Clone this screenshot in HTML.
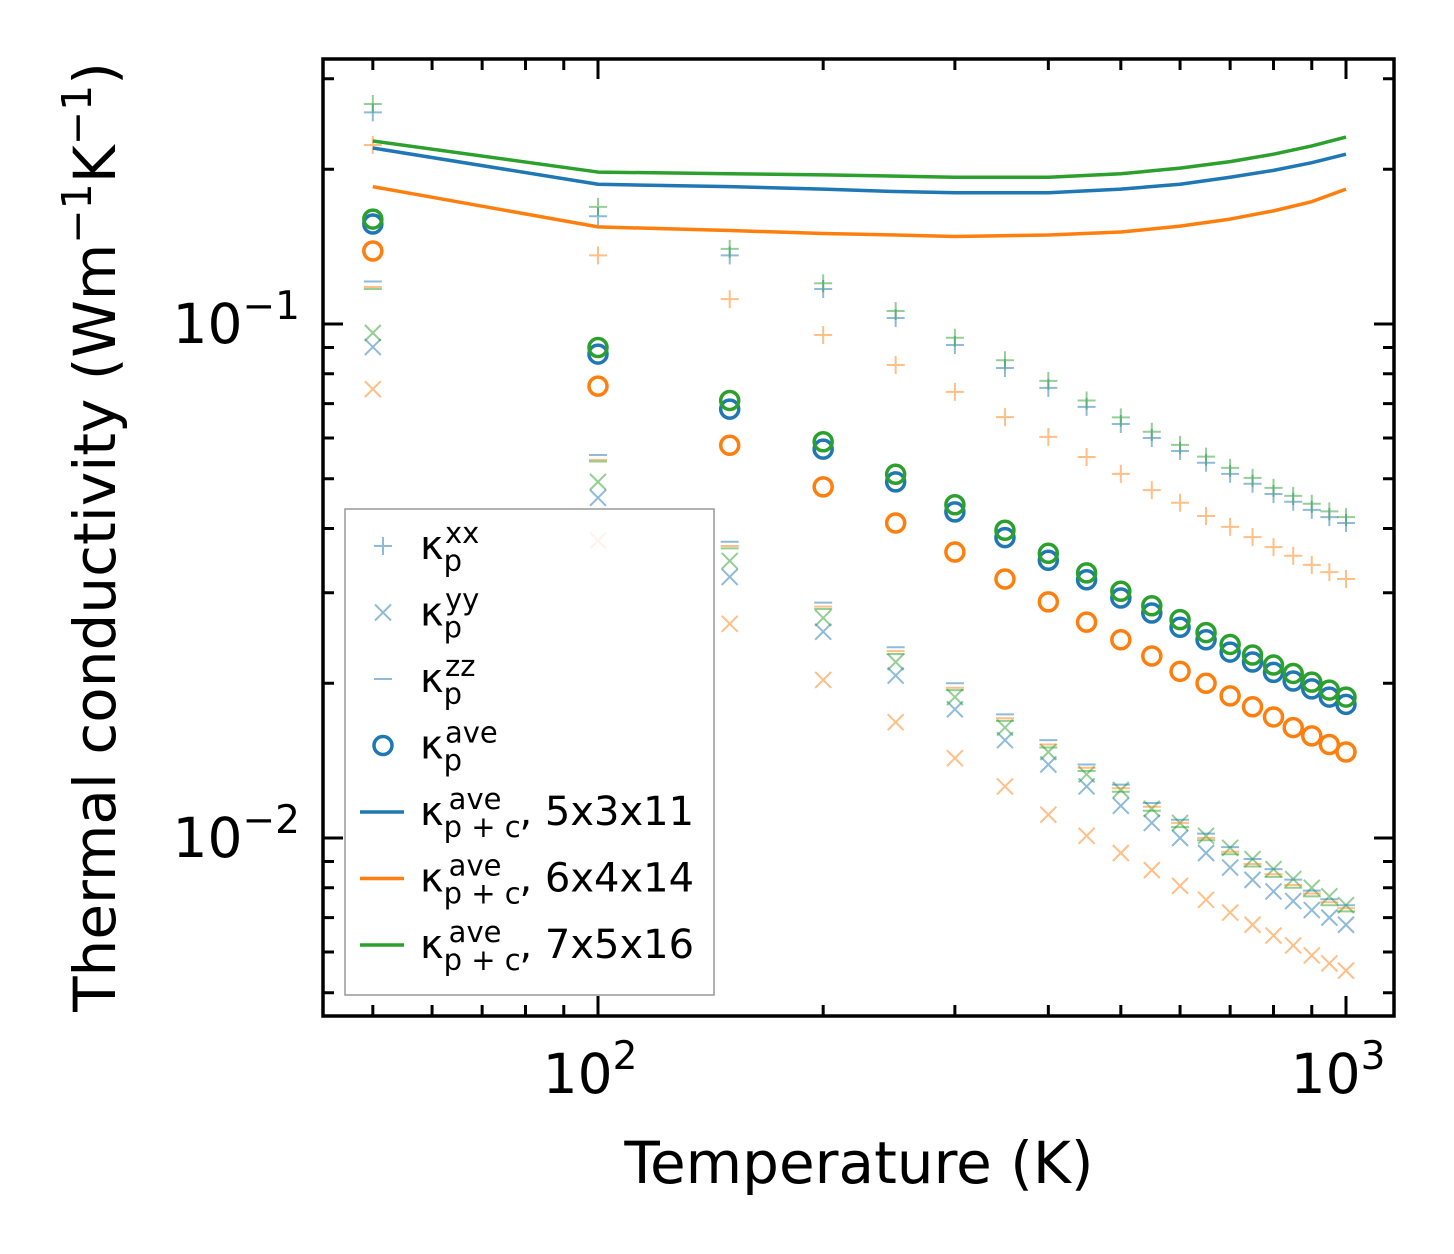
<!DOCTYPE html>
<html><head><meta charset="utf-8"><style>
body{margin:0;background:#fff;}
svg{display:block;font-family:"DejaVu Sans","Liberation Sans",sans-serif;}
</style></head><body>
<svg id="chart" width="1454" height="1254" xmlns="http://www.w3.org/2000/svg">
<rect width="1454" height="1254" fill="#fff"/>
<g id="marks"></g>
<g id="axes"></g>
<g id="legend"></g>
</svg>
<script>
const temps=[50,100,150,200,250,300,350,400,450,500,550,600,650,700,750,800,850,900,950,1000];
const lineTemps=[50,100,150,200,250,300,400,500,600,700,800,900,1000];
const lineBlue=[0.220,0.187,0.185,0.183,0.181,0.180,0.180,0.183,0.187,0.193,0.199,0.206,0.214];
const lineOrange=[0.185,0.1545,0.152,0.150,0.149,0.148,0.149,0.151,0.155,0.160,0.166,0.173,0.183];
const lineGreen=[0.227,0.1975,0.196,0.195,0.194,0.193,0.193,0.196,0.201,0.207,0.214,0.222,0.231];
const aveBlue=[0.1565,0.0874,0.0683,0.0571,0.0493,0.0431,0.0384,0.0347,0.0318,0.0293,0.0274,0.0257,0.0243,0.0230,0.0220,0.0210,0.0202,0.0195,0.0188,0.0182];
const aveGreen=[0.160,0.090,0.071,0.059,0.051,0.0445,0.0397,0.0358,0.0328,0.0302,0.0283,0.0266,0.0251,0.0238,0.0227,0.0217,0.0209,0.0201,0.0194,0.0188];
const aveOrange=[0.1387,0.0757,0.0581,0.0482,0.0410,0.0360,0.0319,0.0288,0.0263,0.0243,0.0226,0.0211,0.0200,0.0189,0.0180,0.0172,0.0164,0.0158,0.0152,0.0147];
const xxBlue=[0.258,0.162,0.136,0.117,0.1027,0.091,0.0821,0.0751,0.069,0.0639,0.060,0.0566,0.0537,0.0511,0.0489,0.0467,0.0451,0.0435,0.0421,0.0410];
const xxGreen=[0.268,0.169,0.140,0.120,0.106,0.094,0.085,0.0775,0.071,0.0658,0.0617,0.0582,0.0552,0.0525,0.0502,0.048,0.0463,0.0447,0.0432,0.0421];
const xxOrange=[0.223,0.136,0.1118,0.0952,0.0832,0.0738,0.0659,0.0603,0.0551,0.0511,0.0475,0.0449,0.0423,0.0403,0.0385,0.0368,0.0354,0.034,0.0329,0.0319];
const yyBlue=[0.0902,0.0459,0.0322,0.0252,0.0207,0.0178,0.0155,0.0139,0.0126,0.01155,0.0107,0.0100,0.00935,0.00876,0.00829,0.00787,0.00754,0.00724,0.0070,0.00678];
const yyGreen=[0.0961,0.0493,0.0346,0.0268,0.022,0.0188,0.0164,0.0147,0.0133,0.0124,0.0114,0.0107,0.0101,0.00957,0.0091,0.0087,0.00832,0.0080,0.0077,0.0074];
const yyOrange=[0.0747,0.0379,0.0261,0.0203,0.0168,0.0143,0.0126,0.0111,0.0101,0.00935,0.00866,0.00807,0.00758,0.00716,0.00678,0.00646,0.00618,0.00591,0.0057,0.00552];
const zzBlue=[0.121,0.0556,0.0377,0.0287,0.0235,0.0200,0.0174,0.0155,0.0139,0.0127,0.0117,0.01085,0.0102,0.0096,0.0091,0.0087,0.0083,0.0079,0.0076,0.0074];
const zzGreen=[0.117,0.0540,0.0366,0.0279,0.0228,0.0194,0.0169,0.0150,0.0135,0.0123,0.0113,0.0105,0.0099,0.0093,0.0088,0.0084,0.0080,0.0077,0.0074,0.0072];
const zzOrange=[0.118,0.0544,0.0370,0.0282,0.0231,0.0196,0.0171,0.0152,0.0137,0.0125,0.0115,0.0107,0.0100,0.0094,0.0089,0.0085,0.0081,0.0078,0.0075,0.0073];
const xTickVals=[100,1000];
const xTickExp=["2","3"];
const yTickVals=[0.1,0.01];
const yTickExp=["\u22121","\u22122"];

const NS="http://www.w3.org/2000/svg";
const L=323,R=1394,T=59,B=1016;
function sx(v){return 598+748*(Math.log10(v)-2);}
function sy(v){return 324-514*(Math.log10(v)+1);}
function mk(tag,attrs,parent){const e=document.createElementNS(NS,tag);for(const k in attrs)e.setAttribute(k,attrs[k]);parent.appendChild(e);return e;}
const C={b:"#1f77b4",o:"#ff7f0e",g:"#2ca02c"};
const marks=document.getElementById('marks');

function plus(x,y,c,parent,name){const g=mk('g',{},parent);


mk('path',{d:`M${x-9},${y}H${x+9}M${x},${y-9}V${y+9}`,stroke:c,'stroke-width':2,'stroke-opacity':0.5,fill:'none'},g);}
function cross(x,y,c,parent,name){const g=mk('g',{},parent);


mk('path',{d:`M${x-8},${y-8}L${x+8},${y+8}M${x-8},${y+8}L${x+8},${y-8}`,stroke:c,'stroke-width':2,'stroke-opacity':0.5,fill:'none'},g);}
function dash(x,y,c,parent,name){const e=mk('path',{d:`M${x-9},${y}H${x+9}`,stroke:c,'stroke-width':2,'stroke-opacity':0.5},parent);

}
function circ(x,y,c,parent,name){const e=mk('circle',{cx:x,cy:y,r:9,fill:'none',stroke:c,'stroke-width':3.5},parent);

}

const clip=mk('clipPath',{id:'pc'},document.getElementById('chart'));mk('rect',{x:L,y:T,width:R-L,height:B-T},clip);
marks.setAttribute('clip-path','url(#pc)');
[[xxBlue,C.b],[xxOrange,C.o],[xxGreen,C.g]].forEach(([s,c])=>s.forEach((v,i)=>plus(sx(temps[i]),sy(v),c,marks,'kxx-point')));
[[yyBlue,C.b],[yyOrange,C.o],[yyGreen,C.g]].forEach(([s,c])=>s.forEach((v,i)=>cross(sx(temps[i]),sy(v),c,marks,'kyy-point')));
[[zzBlue,C.b],[zzOrange,C.o],[zzGreen,C.g]].forEach(([s,c])=>s.forEach((v,i)=>dash(sx(temps[i]),sy(v),c,marks,'kzz-point')));
[[aveBlue,C.b],[aveOrange,C.o],[aveGreen,C.g]].forEach(([s,c])=>s.forEach((v,i)=>circ(sx(temps[i]),sy(v),c,marks,'kave-point')));
[[lineBlue,C.b,'line-5x3x11'],[lineOrange,C.o,'line-6x4x14'],[lineGreen,C.g,'line-7x5x16']].forEach(([s,c,n])=>{
const e=mk('polyline',{points:s.map((v,i)=>sx(lineTemps[i])+','+sy(v)).join(' '),fill:'none',stroke:c,'stroke-width':3.5,'stroke-linejoin':'round'},marks);

});

const ax=document.getElementById('axes');
const fr=mk('rect',{x:L,y:T,width:R-L,height:B-T,fill:'none',stroke:'#000','stroke-width':3.5},ax);


for(let d=1;d<=3;d++)for(let m=1;m<10;m++){const v=m*Math.pow(10,d);const x=sx(v);if(x<L||x>R)continue;const len=m==1?20:11;
mk('path',{d:`M${x},${B}V${B-len}M${x},${T}V${T+len}`,stroke:'#000','stroke-width':3},ax);}
for(let d=-3;d<=0;d++)for(let m=1;m<10;m++){const v=m*Math.pow(10,d);const y=sy(v);if(y<T||y>B)continue;const len=m==1?20:11;
mk('path',{d:`M${L},${y}H${L+len}M${R},${y}H${R-len}`,stroke:'#000','stroke-width':3},ax);}
xTickVals.forEach((v,i)=>{const t=mk('text',{x:sx(v)-8,y:1093,'text-anchor':'middle','font-size':55},ax);


t.innerHTML=`10<tspan dy="-24" font-size="39">${xTickExp[i]}</tspan>`;});
yTickVals.forEach((v,i)=>{const t=mk('text',{x:300,y:sy(v)+19,'text-anchor':'end','font-size':55},ax);


t.innerHTML=`10<tspan dy="-24" font-size="39">${yTickExp[i]}</tspan>`;});
const xt=mk('text',{x:859,y:1183,'text-anchor':'middle','font-size':58},ax);xt.textContent='Temperature (K)';


const yt=mk('text',{x:0,y:0,'text-anchor':'middle','font-size':58,transform:'translate(115,537) rotate(-90)'},ax);
yt.innerHTML='Thermal conductivity (Wm<tspan dy="-24" font-size="41">\u22121</tspan><tspan dy="24">K</tspan><tspan dy="-24" font-size="41">\u22121</tspan><tspan dy="24">)</tspan>';



const lg=document.getElementById('legend');


mk('rect',{x:345,y:509,width:369,height:486,fill:'#fff','fill-opacity':0.8,stroke:'#999','stroke-width':1.5},lg);
const entries=[['plus','xx',''],['cross','yy',''],['dash','zz',''],['circ','ave',''],['line','ave',', 5x3x11',C.b],['line','ave',', 6x4x14',C.o],['line','ave',', 7x5x16',C.g]];
entries.forEach((e,i)=>{const y=546+i*66.5;const g=mk('g',{},lg);


if(e[0]=='plus')plus(383,y,C.b,g,'legend-marker');
else if(e[0]=='cross')cross(383,y,C.b,g,'legend-marker');
else if(e[0]=='dash')dash(383,y,C.b,g,'legend-marker');
else if(e[0]=='circ')circ(383,y,C.b,g,'legend-marker');
else mk('path',{d:`M360,${y}H404`,stroke:e[3],'stroke-width':3.5},g);
const t=mk('text',{x:420,y:y+13,'font-size':40},g);
const sub=e[0]=='line'?'p + c':'p';
t.innerHTML=`\u03ba<tspan dy="12" font-size="29">${sub}</tspan><tspan dy="-28" dx="${e[0]=='line'?-72:-17}" font-size="29">${e[1]}</tspan><tspan dy="16" dx="${e[0]=='line'?18:0}">${e[2]}</tspan>`;});
</script>
</body></html>
